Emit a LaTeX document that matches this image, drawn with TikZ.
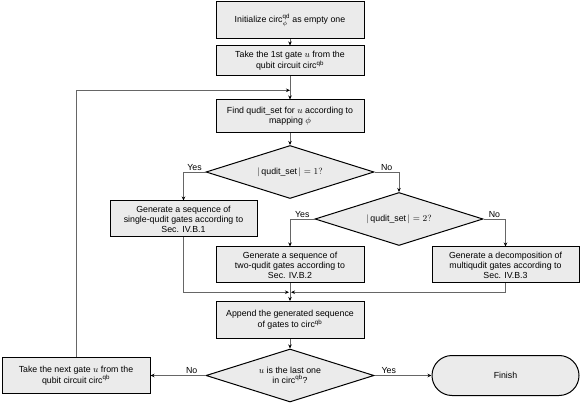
\documentclass[tikz,border=0pt]{standalone}
\usepackage{amsmath}
\usepackage{fontspec}
\setmainfont{Liberation Sans}
\usetikzlibrary{%
  positioning
 ,arrows.meta
 ,calc
 ,shapes.geometric
}
\definecolor{boxgray}{RGB}{235,235,235}
\tikzstyle{flow}=[on grid,font=\fontsize{8.8}{10}\selectfont,align=center]
\tikzstyle{proc}=[rectangle,draw=black,line width=1pt,fill=boxgray,minimum width=148pt,inner sep=2pt]
\tikzstyle{cond}=[diamond,draw=black,line width=1pt,fill=boxgray,minimum width=168pt,minimum height=53pt,inner sep=0pt,aspect=3.2]
\tikzstyle{term}=[rectangle,rounded corners=20pt,draw=black,line width=1pt,fill=boxgray,minimum width=147pt,minimum height=40pt]
\tikzstyle{line}=[draw=black!60,line width=0.8pt,-{Stealth[black,length=4pt,width=3.5pt]}]
\tikzstyle{lbl}=[above,inner sep=1.5pt,pos=0.25]

\begin{document}
\begin{tikzpicture}[flow]
      \useasboundingbox (0,0) rectangle (581pt,-403pt);
      \node[proc,minimum height=37pt] (init) at (290pt,-20pt) {Initialize circ$^{\text{qd}}_{\phi}$ as empty one};
      \node[proc,minimum height=30pt] (take) [below=41pt of init] {Take the 1st gate $u$ from the\\qubit circuit circ$^{\text{qb}}$};
      \node[proc,minimum height=33pt] (find) [below=55.5pt of take] {Find qudit\_set for $u$ according to\\mapping $\phi$};
      \node[cond] (one) [below=55.5pt of find] {$|\,\text{qudit\_set}\,| = 1?$};
      \node[proc,minimum width=147pt,minimum height=36pt] (single) [below left=47pt and 106.5pt of one] {Generate a sequence of\\single-qudit gates according to\\Sec. IV.B.1};
      \node[cond] (two) [below right=47pt and 109pt of one] {$|\,\text{qudit\_set}\,| = 2?$};
      \node[proc,minimum height=36pt] (twoq) [below left=46pt and 109pt of two] {Generate a sequence of\\two-qudit gates according to\\Sec. IV.B.2};
      \node[proc,minimum width=147pt,minimum height=36pt] (multi) [below right=46pt and 106.5pt of two] {Generate a decomposition of\\multiqudit gates according to\\Sec. IV.B.3};
      \node[proc,minimum height=37pt] (append) [below=55pt of twoq] {Append the generated sequence\\of gates to circ$^{\text{qb}}$};
      \node[cond] (last) [below=55.5pt of append] {$u$ is the last one\\in circ$^{\text{qb}}$?};
      \node[proc,minimum height=36pt] (next) [left=214pt of last] {Take the next gate $u$ from the\\qubit circuit circ$^{\text{qb}}$};
      \node[term] (fin) [right=215.5pt of last] {Finish};
      \coordinate (join) at ($(twoq.south)!0.5!(append.north)$);
      \coordinate (loop) at ($(take.south)!0.6!(find.north)$);
      \path[line]
        (init) edge (take)
        (take) edge (find)
        (find) edge (one)
        (twoq) edge (append)
        (append) edge (last);
      \draw[line] (one.west) -| node[lbl] {Yes} (single.north);
      \draw[line] (one.east) -| node[lbl] {No} (two.north);
      \draw[line] (two.west) -| node[lbl] {Yes} (twoq.north);
      \draw[line] (two.east) -| node[lbl] {No} (multi.north);
      \draw[line,shorten >=1pt] (single.south) |- (join);
      \draw[line,shorten >=1pt] (multi.south) |- (join);
      \draw[line] (last.west) -- node[lbl] {No} (next.east);
      \draw[line] (last.east) -- node[lbl] {Yes} (fin.west);
      \draw[line] (next.north) |- (loop);
    \end{tikzpicture}
\end{document}
